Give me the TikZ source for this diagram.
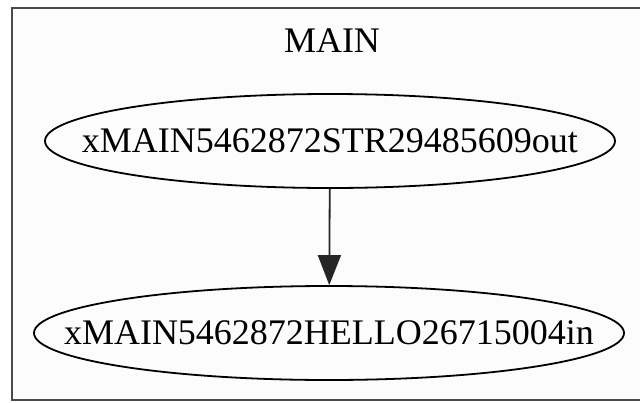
\documentclass[tikz,border=0pt]{standalone}
\usepackage{fontspec}
\setmainfont{Liberation Serif}
\usetikzlibrary{arrows.meta, shapes.geometric}
\definecolor{cFrame}{HTML}{4A4A4A}
\definecolor{cPaper}{HTML}{FCFCFC}

\begin{document}
\begin{tikzpicture}[
  x=1pt, y=1pt,
  cluster/.style={draw=cFrame, fill=cPaper, line width=2.2pt},
  proc/.style={ellipse, draw=black, line width=1.8pt, inner sep=0pt,
    minimum width=#1, minimum height=94pt},
  edge/.style={-{Triangle[length=30pt,width=23pt]}, line width=1.8pt,
    color=black!85},
  every node/.style={font=\fontsize{36}{40}\selectfont},
]
\useasboundingbox (0,0) rectangle (640,-402);

%% ── Cluster MAIN ─────────────────────────────────────────────────────
\draw[cluster] (12,-8) rectangle (660,-400);
\node (title) at (332,-41) {MAIN};

%% ── Nodes ─────────────────────────────────────────────────────────────
\node[proc=570pt] (out) at (330,-141)
  {\makebox[0pt]{xMAIN5462872STR29485609out}};
\node[proc=590pt] (in)  at (329,-333)
  {\makebox[0pt]{xMAIN5462872HELLO26715004in}};

%% ── Edge ──────────────────────────────────────────────────────────────
\draw[edge] (out) -- (in);

\end{tikzpicture}
\end{document}
